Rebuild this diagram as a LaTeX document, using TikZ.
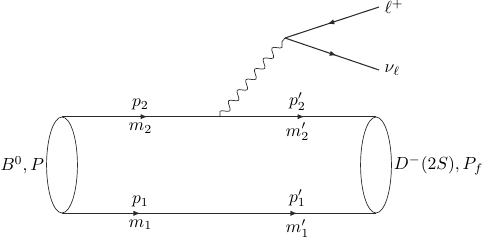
\documentclass[tikz,border=0pt]{standalone}
\usepackage{amsmath}
\usepackage{tikz}
\usetikzlibrary{arrows.meta,decorations.markings,decorations.pathmorphing,shapes.geometric}
\definecolor{Ink}{HTML}{2B2B2B}

\begin{document}
\begin{tikzpicture}[x=0.57pt,y=0.57pt,
    blob/.style={draw=Ink,ellipse,line width=0.4pt,minimum width=17.6pt,minimum height=54.7pt,inner sep=0pt},
    quark/.style={draw=Ink,line width=0.6pt},
    toleft/.style={decoration={markings,mark=at position 0.25 with {\arrow{Latex[reversed,length=4pt,width=3pt]}},mark=at position 0.75 with {\arrow{Latex[reversed,length=4pt,width=3pt]}}},postaction={decorate}},
    toright/.style={decoration={markings,mark=at position 0.25 with {\arrow{Latex[length=4pt,width=3pt]}},mark=at position 0.75 with {\arrow{Latex[length=4pt,width=3pt]}}},postaction={decorate}},
    midarrow/.style={decoration={markings,mark=at position 0.55 with {\arrow{Latex[length=4pt,width=3pt]}}},postaction={decorate}},
    photon/.style={draw=Ink,line width=0.4pt,decorate,decoration={snake,amplitude=2.1pt,segment length=7.8pt}}]
    \useasboundingbox (0,0) rectangle (485,241);
    % meson ends of the tube
    \node[blob] (Bin) at (62,76) {};
    \node[blob] (Dout) at (376,76) {};
    \node[left,inner sep=1pt] (Blabel) at (Bin.west) {$B^0,P$};
    \node[right,inner sep=1pt] (Dlabel) at (Dout.east) {$D^-(2S),P_f$};
    % quark lines
    \draw[quark,toleft] (Dout.north) -- (Bin.north)
      node[pos=0.25,above] (p2b) {$p_2'$} node[pos=0.25,below] (m2b) {$m_2'$}
      node[pos=0.75,above] (p2) {$p_2$} node[pos=0.75,below] (m2) {$m_2$};
    \draw[quark,toright] (Bin.south) -- (Dout.south)
      node[pos=0.25,above] (p1) {$p_1$} node[pos=0.25,below] (m1) {$m_1$}
      node[pos=0.75,above] (p1b) {$p_1'$} node[pos=0.75,below] (m1b) {$m_1'$};
    % W emission and leptons
    \coordinate (wq) at (220,124);
    \coordinate (w) at (285,203);
    \node[right,inner sep=3pt] (lep) at (379,234) {$\ell^+$};
    \node[right,inner sep=3pt] (nu) at (379,171) {$\nu_\ell$};
    \draw[photon] (wq) -- (w);
    \draw[quark,midarrow] (lep.west) -- (w);
    \draw[quark,midarrow] (w) -- (nu.west);
\end{tikzpicture}
\end{document}
